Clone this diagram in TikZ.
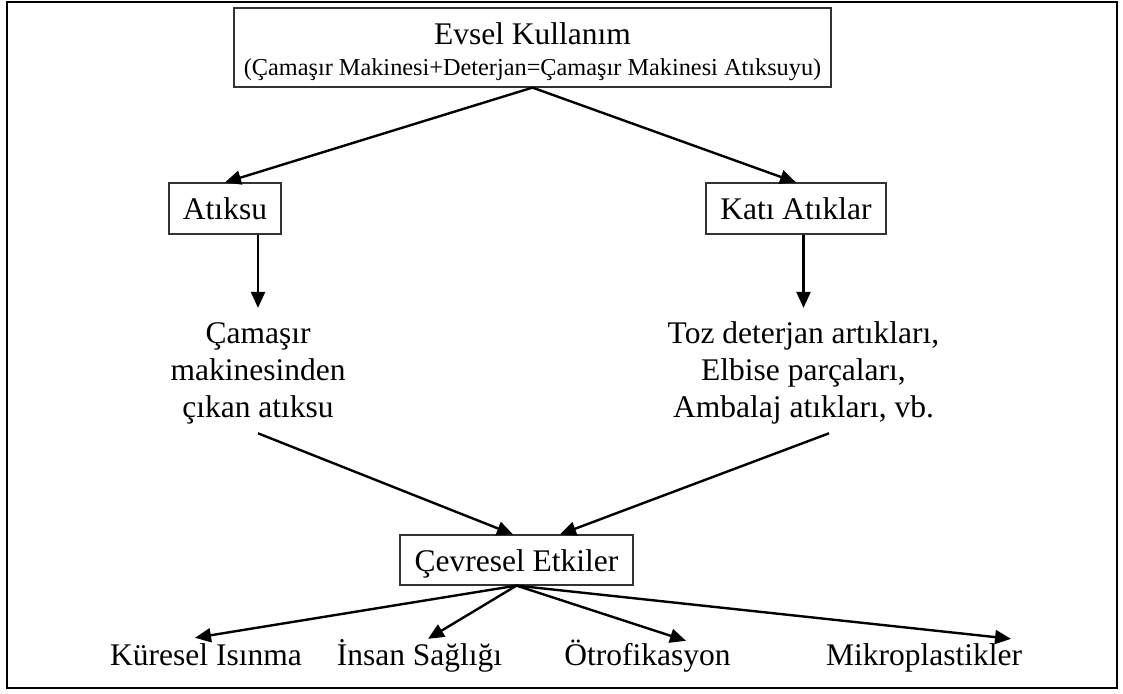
\documentclass[tikz,border=0pt]{standalone}
\usepackage{fontspec}
\setmainfont{Liberation Serif}
\usetikzlibrary{arrows.meta}
\newcommand{\bigf}{\fontsize{31.5}{37}\selectfont}
\newcommand{\subf}{\fontsize{24.3}{31}\selectfont}
\begin{document}
\begin{tikzpicture}[x=1pt,y=-1pt,
  box/.style={draw=black!80,line width=1.2pt,inner sep=0pt,font=\bigf,text height=22pt,text depth=0pt},
  lbl/.style={inner sep=0pt,font=\bigf,text height=22pt,text depth=0pt,anchor=base},
  blk/.style={inner sep=0pt,anchor=base},
  arr/.style={line width=2.4pt,-{Triangle[length=16pt,width=14pt]}}]
\useasboundingbox (0,0) rectangle (1123,693);
\draw[line width=2.5pt] (7,2) rectangle (1117,688);

\node[box,minimum width=597pt,minimum height=79pt,text height=10pt,text depth=15pt] (top) at (532.5,47.5)
  {\fontsize{31.5}{31}\selectfont\begin{tabular}[t]{@{}c@{}}Evsel Kullanım\\{\subf (Çamaşır Makinesi+Deterjan=Çamaşır Makinesi Atıksuyu)}\end{tabular}};

\node[box,minimum width=112pt,minimum height=51pt] (atiksu) at (225,208.5) {Atıksu};
\node[box,minimum width=180pt,minimum height=51pt] (kati) at (796,208.5) {Katı Atıklar};

\node[blk] (t1) at (258,343) {\bigf\begin{tabular}[t]{@{}c@{}}Çamaşır\\makinesinden\\çıkan atıksu\end{tabular}};
\node[blk] (t2) at (803.5,343) {\bigf\begin{tabular}[t]{@{}c@{}}Toz deterjan artıkları,\\Elbise parçaları,\\Ambalaj atıkları, vb.\end{tabular}};

\node[box,minimum width=233pt,minimum height=50pt] (cevre) at (516.5,560) {Çevresel Etkiler};

\node[lbl] (k1) at (206,665) {Küresel Isınma};
\node[lbl] (k2) at (419.5,665) {İnsan Sağlığı};
\node[lbl] (k3) at (647.5,665) {Ötrofikasyon};
\node[lbl] (k4) at (924,665) {Mikroplastikler};

\draw[arr] (top.south) -- (atiksu.north);
\draw[arr] (top.south) -- (kati.north);
\draw[arr] (t1.north |- atiksu.south) -- ([yshift=9pt]t1.north);
\draw[arr] (t2.north |- kati.south) -- ([yshift=9pt]t2.north);
\draw[arr] ([yshift=-5pt]t1.south) -- ([xshift=-3.5pt]cevre.north);
\draw[arr] ([xshift=25.5pt,yshift=-5pt]t2.south) -- ([xshift=43.5pt]cevre.north);
\draw[arr] (cevre.south) -- ([xshift=-11pt,yshift=5pt]k1.north);
\draw[arr] (cevre.south) -- ([xshift=8.5pt,yshift=4pt]k2.north);
\draw[arr] (cevre.south) -- ([xshift=38.5pt,yshift=2pt]k3.north);
\draw[arr] (cevre.south) -- ([xshift=87pt,yshift=4pt]k4.north);
\end{tikzpicture}
\end{document}
